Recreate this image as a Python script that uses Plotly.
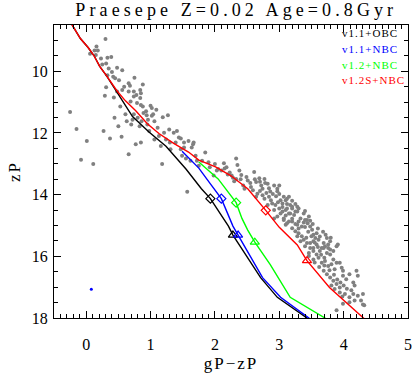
import plotly.graph_objects as go

# ---------- Praesepe stars (gP-zP, zP) ----------
star_gz = [
    0.30, 0.16, 0.18, 0.13, 0.06, 0.15, 0.23, 0.33, 0.39, 0.25,
    0.31, 0.48, 0.56, 0.35, 0.40, 0.33, 0.42, 0.45, 0.51, 0.75,
    0.66, 0.68, 0.59, 0.31, 0.88, 0.48, 0.56, 0.66, 0.74, 0.78,
    0.85, 0.29, 0.43, 0.74, 0.69, 0.79, 0.85, 0.53, 1.00, 1.02,
    1.09, 0.61, 0.74, 0.89, 0.94, 1.04, 1.19, 1.27, 0.44, -0.25,
    0.63, 0.86, 0.96, -0.15, 0.01, -0.08, 0.11, 0.27, 0.37, 0.66, 0.50,
    0.55, 0.70, 0.72, 0.77, 0.80, 0.83, 0.85, 0.88, 0.95, 0.98,
    1.02, 1.06, 1.06, 1.11, 1.13, 1.16, 1.18, 1.21, 1.24, 1.29,
    1.30, 1.31, 1.36, 1.39, 1.41, 1.44, 1.47, 1.49, 1.52, 1.55,
    1.57, 1.59, 1.62, 1.64, 1.67, 1.70, 1.72, 1.75, 1.80, 1.85,
    1.90, 1.92, 2.00, 2.03, 1.98,
    0.84, 0.84, 0.93, 1.47, 1.66, 1.52, 2.33, 2.35, 2.14, 2.18,
    2.05, 2.10, 2.15, 2.23, 2.26, 2.38, 2.41, 2.33, 2.30, 2.49,
    2.51, 2.61, 2.64, 2.44, 2.46, 2.56, 2.59, 2.69, 2.72, 2.74,
    2.77, 2.82, 2.84, 2.92, 2.97, 2.97, 2.66, 2.64, 2.74, 2.77,
    2.84, 2.87, 2.89, 2.94, 2.82, 2.92, 3.02, 3.05, 3.07, 3.12,
    3.00, 3.02, 2.97, 3.10, 3.15, 3.20, 3.23, 3.28, 3.33, 3.38,
    3.40, 3.07, 3.12, 3.20, 3.28, 3.35, 2.92,
    3.00, 3.10, 3.15, 3.17, 3.20, 3.25, 3.28, 3.40, 3.43, 3.46,
    3.44, 3.48, 3.51, 3.53, 3.56, 3.58, 3.61, 3.53, 3.63, 3.69,
    3.71, 3.66, 3.74, 3.76, 3.79, 3.89, 3.84, 3.79, 3.74, 3.05,
    3.07, 3.10, 3.15, 3.20, 3.25, 3.30, 3.28, 3.35, 3.38, 3.43,
    3.48, 3.46, 3.53, 3.58, 3.12, 3.17, 3.30,
    3.33, 3.40, 3.48, 3.53, 3.58, 3.63, 3.69, 3.79, 3.76, 3.91,
    3.46, 3.53, 3.61, 3.66, 3.71, 3.76, 3.81, 3.86, 3.84, 3.89,
    3.94, 3.97, 3.99, 3.69, 3.74, 3.79, 3.84, 3.89, 3.94, 3.86,
    3.81, 3.99, 4.04, 4.09, 4.15, 4.20, 4.22, 4.17, 3.94, 4.02,
    4.09, 4.15, 4.22, 4.30, 4.27, 4.17, 4.32, 3.89, 3.99, 4.09, 4.30,
    2.20, 2.28, 2.40, 2.55, 2.62, 2.70, 2.78, 2.86, 2.90, 2.95,
    3.00, 2.80, 2.70, 2.98, 3.05, 3.12, 3.20, 3.25, 3.30, 3.10,
    3.20, 3.25, 3.30, 3.40, 3.45, 3.42, 3.50, 3.55, 3.60, 3.65,
    3.70, 3.55, 3.62, 3.70, 3.78, 3.85, 3.90, 3.95, 4.00, 4.05,
    3.98, 4.12, 3.72, 3.80, 3.68, 3.60, 3.52, 3.48, 3.38,
]
star_z = [
    8.95, 9.20, 9.33, 9.33, 9.43, 9.47, 9.59, 9.56, 9.54, 9.78,
    9.75, 9.89, 9.97, 9.91, 10.02, 10.13, 10.18, 10.23, 10.29, 10.21,
    10.39, 10.47, 10.50, 10.52, 10.43, 10.66, 10.61, 10.66, 10.66, 10.77,
    10.71, 10.79, 10.85, 10.82, 10.98, 11.03, 11.09, 11.14, 11.12, 11.19,
    11.25, 11.39, 11.39, 11.35, 11.43, 11.39, 11.49, 11.43, 11.51, 11.32,
    11.62, 11.62, 11.57, 11.87, 12.26, 12.87, 13.01, 11.94, 12.18, 12.69, 11.78,
    12.12, 11.73, 11.57, 12.37, 11.51, 11.78, 12.31, 11.14, 11.73, 11.94,
    11.44, 11.62, 12.21, 11.83, 12.10, 12.42, 13.01, 11.99, 12.21, 11.89,
    12.31, 12.53, 11.99, 12.31, 11.94, 12.15, 12.53, 12.74, 12.31, 12.83,
    13.91, 12.26, 12.90, 12.47, 12.31, 12.74, 12.90, 13.06, 12.90, 12.63,
    12.95, 13.11, 13.01, 13.22, 13.38,
    10.61, 10.87, 11.30, 12.18, 12.37, 12.47, 12.83, 13.04, 12.98, 13.11,
    13.17, 13.22, 13.15, 13.28, 13.38, 13.22, 13.36, 13.49, 13.57, 13.43,
    13.54, 13.27, 13.59, 13.70, 13.81, 13.75, 13.86, 13.47, 13.70, 13.81,
    13.49, 13.65, 13.79, 13.70, 13.81, 13.89, 13.97, 14.07, 14.02, 14.13,
    14.07, 14.18, 14.29, 14.34, 14.34, 14.50, 14.18, 14.29, 14.07, 14.13,
    14.45, 14.61, 14.71, 14.50, 14.61, 14.39, 14.66, 14.55, 14.77, 14.61,
    14.82, 14.82, 14.93, 14.87, 14.98, 15.03, 14.77,
    13.70, 14.18, 14.07, 14.34, 14.45, 14.55, 14.39, 14.53, 14.82, 14.71,
    14.93, 15.03, 15.14, 15.30, 15.41, 15.25, 15.46, 15.51, 15.36, 15.57,
    15.67, 15.73, 15.41, 15.73, 15.51, 15.67, 15.83, 15.94, 15.89, 14.55,
    14.77, 14.98, 14.87, 15.09, 15.19, 15.25, 15.35, 15.35, 15.46, 15.57,
    15.73, 15.89, 15.83, 15.94, 14.45, 14.61, 14.87,
    15.51, 15.67, 15.57, 15.73, 15.62, 15.83, 15.73, 15.78, 15.62, 15.62,
    15.99, 16.10, 16.05, 16.21, 16.15, 16.31, 16.26, 16.42, 16.10, 16.21,
    16.21, 16.37, 16.47, 16.47, 16.58, 16.69, 16.79, 16.90, 17.01, 17.06,
    16.95, 16.63, 16.74, 16.58, 16.85, 16.47, 16.63, 16.95, 17.17, 17.22,
    17.33, 17.22, 17.28, 17.22, 17.43, 17.43, 17.59, 17.75, 17.54, 17.49, 17.56,
    13.35, 13.45, 13.50, 13.62, 13.50, 13.58, 13.62, 13.90, 13.98, 14.05,
    13.98, 13.95, 13.88, 14.25, 14.40, 14.30, 14.20, 14.30, 14.45, 14.68,
    14.78, 14.95, 15.10, 15.05, 15.20, 15.40, 15.35, 15.55, 15.70, 15.95,
    16.05, 16.20, 16.35, 16.30, 16.45, 16.60, 16.75, 16.85, 16.95, 17.05,
    17.30, 17.10, 15.30, 15.40, 15.20, 15.10, 14.95, 14.85, 14.90,
]

# ---------- Isochrones ----------
v11_obc_gz = [-0.23, -0.21, -0.09, 0.03, 0.12, 0.21, 0.32, 0.48, 0.72, 0.98, 1.24,
              1.55, 1.79, 1.93, 2.08, 2.21, 2.28, 2.51, 2.71, 2.97, 3.43, 3.47]
v11_obc_z = [8.45, 8.53, 8.94, 9.23, 9.49, 9.84, 10.16, 10.70, 11.47, 11.98, 12.43,
             13.17, 13.81, 14.13, 14.61, 15.02, 15.31, 16.05, 16.69, 17.33, 18.00, 18.10]

v11_nbc_gz = [1.49, 1.75, 1.93, 2.10, 2.28, 2.36, 2.57, 2.74, 3.02, 3.46, 3.50]
v11_nbc_z = [12.59, 13.14, 13.65, 14.13, 15.02, 15.31, 16.05, 16.69, 17.33, 18.00, 18.10]

v12_nbc_gz = [1.75, 2.05, 2.33, 2.42, 2.51, 2.62, 2.86, 3.17, 3.71, 3.75]
v12_nbc_z = [12.94, 13.49, 14.26, 14.77, 15.15, 15.54, 16.27, 17.33, 18.00, 18.08]

v12s_nbc_gz = [-0.23, -0.21, -0.09, 0.03, 0.12, 0.21, 0.32, 0.48, 0.61, 0.77, 0.95,
               1.13, 1.36, 1.59, 1.75, 2.01, 2.25, 2.51, 2.79, 3.00, 3.28, 3.43,
               3.78, 4.30, 4.35]
v12s_nbc_z = [8.45, 8.53, 8.94, 9.23, 9.49, 9.84, 10.16, 10.64, 10.96, 11.28, 11.70,
              12.02, 12.34, 12.62, 12.88, 13.10, 13.39, 13.81, 14.51, 15.06, 15.63, 16.14,
              17.01, 18.00, 18.08]

# marker points on each isochrone
diamond_gz = [1.93, 2.10, 2.33, 2.79]
diamond_z = [14.13, 14.13, 14.26, 14.51]
triangle_gz = [2.28, 2.36, 2.62, 3.43]
triangle_z = [15.31, 15.31, 15.54, 16.14]

stray_gz = [0.08]
stray_z = [17.07]

model_names = ["v1.1+OBC", "v1.1+NBC", "v1.2+NBC", "v1.2S+NBC"]
model_colors = ["black", "#0000ff", "#00ff00", "#ff0000"]

FONT = "Liberation Serif"

fig = go.Figure()

fig.add_scatter(x=star_gz, y=star_z, mode="markers",
                marker=dict(color="#808080", size=4), hoverinfo="skip")

tracks = [
    (v11_obc_gz, v11_obc_z),
    (v11_nbc_gz, v11_nbc_z),
    (v12_nbc_gz, v12_nbc_z),
    (v12s_nbc_gz, v12s_nbc_z),
]
for (gx, gy), col in zip(tracks, model_colors):
    fig.add_scatter(x=gx, y=gy, mode="lines", line=dict(color=col, width=1.4))

for i, col in enumerate(model_colors):
    fig.add_scatter(x=[diamond_gz[i]], y=[diamond_z[i]], mode="markers",
                    marker=dict(symbol="diamond-open", size=7, color=col,
                                line=dict(width=1.2, color=col)))
    fig.add_scatter(x=[triangle_gz[i]], y=[triangle_z[i]], mode="markers",
                    marker=dict(symbol="triangle-up-open", size=8, color=col,
                                line=dict(width=1.2, color=col)))

fig.add_scatter(x=stray_gz, y=stray_z, mode="markers",
                marker=dict(color="#0000ff", size=3))

# legend text (top right)
leg_y = [0.973, 0.919, 0.865, 0.811]
for name, col, yy in zip(model_names, model_colors, leg_y):
    fig.add_annotation(x=0.808, y=yy, xref="paper", yref="paper", text=name,
                       showarrow=False, xanchor="left", yanchor="middle", align="left",
                       font=dict(family=FONT, size=11, color=col))

axis_common = dict(
    showgrid=False, zeroline=False, showline=True, linecolor="black", linewidth=1.2,
    mirror="allticks", ticks="inside", tickcolor="black", tickwidth=1, ticklen=7,
    tickfont=dict(family=FONT, size=16, color="black"),
)

fig.update_xaxes(range=[-0.5, 5], tick0=0, dtick=1,
                 minor=dict(ticks="inside", ticklen=4, dtick=0.1, tick0=0, tickcolor="black"),
                 ticklabelstandoff=12,
                 title=dict(text="gP−zP", font=dict(family=FONT, size=17, color="black"), standoff=4),
                 **axis_common)
fig.update_yaxes(range=[18, 8.5], tick0=10, dtick=2,
                 minor=dict(ticks="inside", ticklen=4, dtick=0.5, tick0=10, tickcolor="black"),
                 ticklabelstandoff=2,
                 title=dict(text="zP", font=dict(family=FONT, size=17, color="black"), standoff=6),
                 **axis_common)

fig.update_layout(
    width=416, height=373,
    margin=dict(l=54, r=4, t=25, b=52),
    paper_bgcolor="white", plot_bgcolor="white",
    showlegend=False,
    title=dict(text="Praesepe Z=0.02 Age=0.8Gyr", x=0.568, xanchor="center",
               y=0.99, yanchor="top", yref="container",
               font=dict(family=FONT, size=18, color="black")),
)

page_js = """
document.body.style.margin='0';
document.querySelectorAll('.gtitle').forEach(function(t){t.style.letterSpacing='4.1px';});
document.querySelectorAll('.annotation-text').forEach(function(t){t.style.letterSpacing='1px';});
document.querySelectorAll('.xtitle, .ytitle').forEach(function(t){t.style.letterSpacing='2px';});
"""

fig.write_html("out.html", post_script=page_js, config={"displayModeBar": False})
